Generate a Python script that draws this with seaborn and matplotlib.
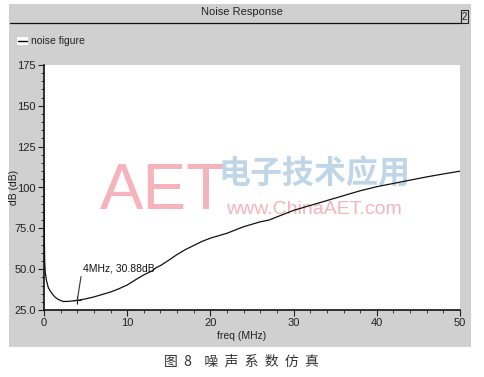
import matplotlib
matplotlib.use('Agg')
import matplotlib.pyplot as plt
from matplotlib.patches import Rectangle
from matplotlib.lines import Line2D
from matplotlib.ticker import MultipleLocator
import seaborn as sns
import pandas as pd

# noise figure curve (MHz, dB)
freq = [0.0, 0.03, 0.08, 0.15, 0.3, 0.5, 0.7, 1.0, 1.3, 1.7, 2.3, 3.0, 4.0,
        5.0, 6.0, 7.0, 8.0, 9.0, 10.0, 11.0, 12.0, 13.0, 13.5, 14.0, 15.0,
        16.0, 17.0, 18.0, 19.0, 20.0, 21.0, 22.0, 23.0, 24.0, 25.0, 26.0,
        27.0, 28.0, 29.0, 30.0, 32.0, 34.0, 36.0, 38.0, 40.0, 42.0, 44.0,
        46.0, 48.0, 50.0]
noise_db = [109, 75, 55, 48, 43, 39, 37, 34.8, 33, 31.5, 30.2, 30.3, 30.88,
            31.8, 33, 34.5, 36, 38, 40.3, 43.5, 46.5, 49, 51, 52.2, 55.5,
            59, 62, 64.5, 67, 69, 70.5, 72, 74, 76, 77.5, 79,
            80, 82, 84, 86, 89, 92, 95, 98, 100.5, 102.5, 104.5,
            106.5, 108.3, 110]
marker_f = 4
marker_db = 30.88
y_ticks = [25, 50, 75, 100, 125, 150, 175]
y_labels = ['25.0', '50.0', '75.0', '100', '125', '150', '175']
x_ticks = [0, 10, 20, 30, 40, 50]

W, H = 484, 377
def fx(px): return px / W
def fy(py): return 1 - py / H

sns.set_style('ticks')
plt.rcParams['font.family'] = ['Liberation Sans', 'DejaVu Sans']
cjk = ['Noto Sans CJK SC', 'DejaVu Sans']
panel = '#d0d0d0'

fig = plt.figure(figsize=(W / 100, H / 100), dpi=100)
fig.patch.set_facecolor('white')

# grey window panel
fig.add_artist(Rectangle((fx(9), fy(347)), fx(471) - fx(9), fy(4) - fy(347),
                         transform=fig.transFigure, facecolor=panel,
                         edgecolor='none', zorder=0))
# title bar
fig.text(fx(242), fy(12), 'Noise Response', ha='center', va='center', fontsize=8, color='#222')
fig.add_artist(Line2D([fx(10), fx(461)], [fy(23), fy(23)], transform=fig.transFigure,
                      color='#111', lw=0.9))
fig.add_artist(Rectangle((fx(461), fy(23)), fx(7), fy(10) - fy(23),
                         transform=fig.transFigure, facecolor=panel,
                         edgecolor='#222', lw=0.8))
fig.text(fx(464.5), fy(17), '2', ha='center', va='center', fontsize=7, color='#222')

# legend
fig.add_artist(Rectangle((fx(17), fy(45)), fx(11), fy(37) - fy(45),
                         transform=fig.transFigure, facecolor='white', edgecolor='none'))
fig.add_artist(Line2D([fx(18), fx(27)], [fy(41), fy(41)], transform=fig.transFigure,
                      color='black', lw=1.0))
fig.text(fx(31), fy(41), 'noise figure', ha='left', va='center', fontsize=7.5, color='#222')

ax = fig.add_axes([fx(44), fy(310), fx(460) - fx(44), fy(65) - fy(310)])
ax.set_facecolor('white')

# watermark
ax.text(0.135, 0.48, 'AET', transform=ax.transAxes, fontsize=47, color='#f7b3bb',
        ha='left', va='center', zorder=1)
ax.text(0.65, 0.555, '电子技术应用', transform=ax.transAxes, fontsize=23, color='#bfd6e8',
        ha='center', va='center', family=cjk, fontweight='bold', zorder=1)
ax.text(0.65, 0.41, 'www.ChinaAET.com', transform=ax.transAxes, fontsize=14,
        color='#f7b3bb', ha='center', va='center', zorder=1)

df = pd.DataFrame({'freq': freq, 'nf': noise_db})
sns.lineplot(data=df, x='freq', y='nf', color='#111', lw=0.9, ax=ax, zorder=3)
ax.plot([marker_f], [marker_db], marker='+', ms=6, mew=0.8, color='#111', zorder=4)
ax.annotate('4MHz, 30.88dB', xy=(marker_f, marker_db), xytext=(4.7, 47.5),
            fontsize=7.5, color='#111', ha='left', va='bottom',
            arrowprops=dict(arrowstyle='-', color='#333', lw=0.8, relpos=(0, 1),
                            shrinkA=0, shrinkB=0), zorder=4)

ax.set_xlim(0, 50)
ax.set_ylim(25, 175)
ax.set_xticks(x_ticks)
ax.set_yticks(y_ticks)
ax.set_yticklabels(y_labels)
ax.xaxis.set_minor_locator(MultipleLocator(2))
ax.yaxis.set_minor_locator(MultipleLocator(5))
ax.tick_params(which='major', length=4, width=0.8, labelsize=8, colors='#222', pad=2)
ax.tick_params(which='minor', length=2, width=0.6, colors='#222')
for s in ['top', 'right']:
    ax.spines[s].set_visible(False)
for s in ['left', 'bottom']:
    ax.spines[s].set_linewidth(1.2)
    ax.spines[s].set_color('#111')
ax.set_xlabel('')
ax.set_ylabel('')

fig.text(fx(242), fy(336), 'freq (MHz)', ha='center', va='center', fontsize=7.5, color='#222')
fig.text(fx(14), fy(187), 'dB (dB)', ha='center', va='center', rotation=90,
         fontsize=7.5, color='#222')

# caption
fig.text(fx(241), fy(362), '图  8    噪  声  系  数  仿  真', ha='center', va='center',
         fontsize=10, color='#333', family=cjk)

fig.savefig('out.png', dpi=100)
